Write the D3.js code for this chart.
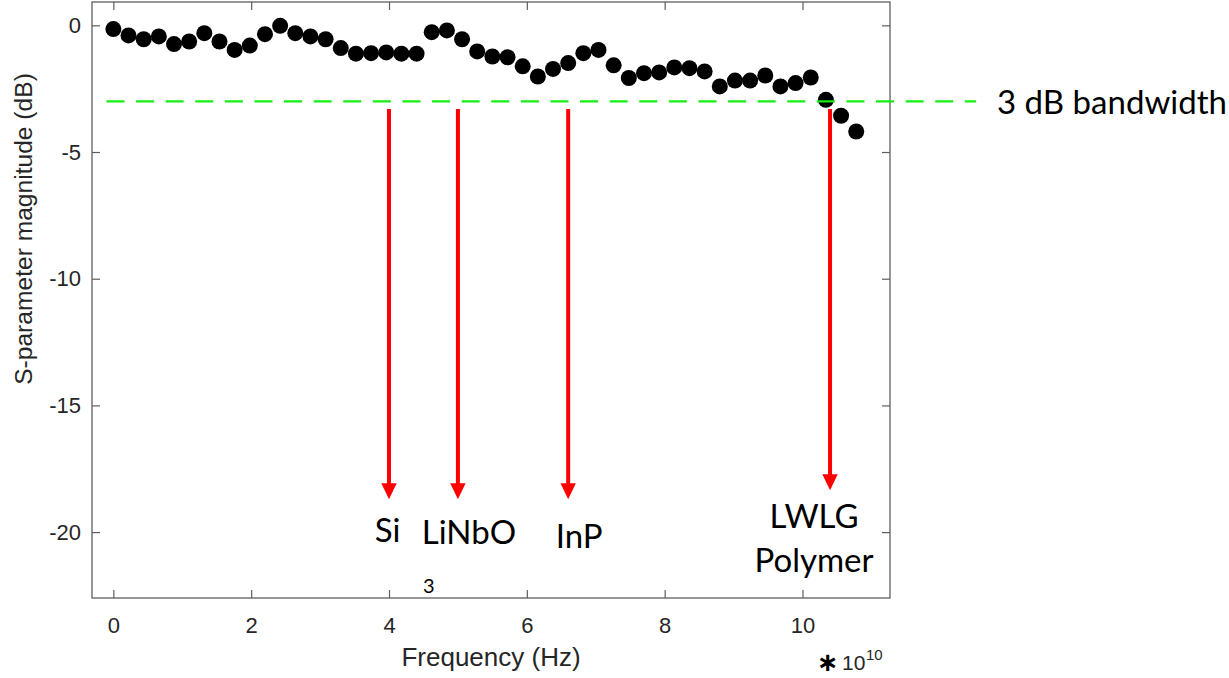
<!DOCTYPE html>
<html>
<head>
<meta charset="utf-8">
<script src="https://cdn.jsdelivr.net/npm/d3@7"></script>
<style>
  body { margin: 0; background: #fff; }
  svg { display: block; }
</style>
</head>
<body>
<div id="chart"></div>
<script>
// frequency in units of 1e10 Hz
const freqs = [0, 0.22, 0.44, 0.66, 0.88, 1.10, 1.32, 1.54, 1.76, 1.98,
  2.20, 2.42, 2.64, 2.86, 3.08, 3.30, 3.52, 3.74, 3.96, 4.18,
  4.40, 4.62, 4.84, 5.06, 5.28, 5.50, 5.72, 5.94, 6.16, 6.38,
  6.60, 6.82, 7.04, 7.26, 7.48, 7.70, 7.92, 8.14, 8.36, 8.58,
  8.80, 9.02, 9.24, 9.46, 9.68, 9.90, 10.12, 10.34, 10.56, 10.78];
// measured S-parameter magnitude (dB)
const magnitude = [-0.15, -0.40, -0.55, -0.44, -0.74, -0.64, -0.31, -0.64, -0.97, -0.80,
  -0.35, -0.02, -0.31, -0.44, -0.55, -0.90, -1.12, -1.10, -1.07, -1.12,
  -1.12, -0.27, -0.20, -0.55, -1.03, -1.23, -1.26, -1.62, -2.02, -1.72,
  -1.49, -1.10, -0.97, -1.58, -2.08, -1.89, -1.86, -1.66, -1.69, -1.82,
  -2.41, -2.18, -2.18, -1.98, -2.41, -2.28, -2.06, -2.94, -3.57, -4.19];

const xTicks = [0, 2, 4, 6, 8, 10];
const yTicks = [0, -5, -10, -15, -20];
const bandwidthLevel = -3;

// material bandwidth markers
const materials = ['Si', 'LiNbO', 'InP', 'LWLG Polymer'];
const materialFreqs = [4, 5, 6.6, 10.4];
const arrowTipDb = [-18.7, -18.7, -18.7, -18.35];
const arrowStartDb = -3.3;

const width = 1229, height = 678;
const svg = d3.select('#chart').append('svg')
  .attr('width', width)
  .attr('height', height);

const x = d3.scaleLinear().domain([-0.31, 11.27]).range([92, 890]);
const y = d3.scaleLinear().domain([-22.6, 0.92]).range([598, 2]);

const axisColor = '#5e5e5e';
const textColor = '#262626';
const tickFont = '"Liberation Sans", Arial, sans-serif';
const noteFont = 'Lato, "Open Sans", sans-serif';
const plainFmt = d => String(d); // hyphen minus, not the unicode minus

// axes (ticks inward, like matlab)
function styleAxis(g, showLabels) {
  g.select('.domain').remove();
  g.selectAll('.tick line').attr('stroke', axisColor).attr('stroke-width', 1.2);
  g.selectAll('.tick text')
    .attr('fill', textColor)
    .style('font-family', tickFont)
    .style('font-size', '22px');
  if (!showLabels) g.selectAll('.tick text').remove();
}

svg.append('g')
  .attr('transform', `translate(0,${y.range()[0]})`)
  .call(d3.axisBottom(x).tickValues(xTicks).tickFormat(plainFmt).tickSize(-8).tickPadding(19))
  .call(g => styleAxis(g, true));

svg.append('g')
  .attr('transform', `translate(0,${y.range()[1]})`)
  .call(d3.axisTop(x).tickValues(xTicks).tickSize(-8))
  .call(g => styleAxis(g, false));

svg.append('g')
  .attr('transform', `translate(${x.range()[0]},0)`)
  .call(d3.axisLeft(y).tickValues(yTicks).tickFormat(plainFmt).tickSize(-8).tickPadding(11))
  .call(g => styleAxis(g, true));

svg.append('g')
  .attr('transform', `translate(${x.range()[1]},0)`)
  .call(d3.axisRight(y).tickValues(yTicks).tickSize(-8))
  .call(g => styleAxis(g, false));

// box
svg.append('rect')
  .attr('x', x.range()[0])
  .attr('y', y.range()[1])
  .attr('width', x.range()[1] - x.range()[0])
  .attr('height', y.range()[0] - y.range()[1])
  .attr('fill', 'none')
  .attr('stroke', axisColor)
  .attr('stroke-width', 1.3);

// axis labels
svg.append('text')
  .attr('x', (x.range()[0] + x.range()[1]) / 2)
  .attr('y', 666)
  .attr('text-anchor', 'middle')
  .attr('fill', textColor)
  .style('font-family', tickFont)
  .style('font-size', '26px')
  .text('Frequency (Hz)');

svg.append('text')
  .attr('transform', 'translate(32,229) rotate(-90)')
  .attr('text-anchor', 'middle')
  .attr('fill', textColor)
  .style('font-family', tickFont)
  .style('font-size', '24.6px')
  .text('S-parameter magnitude (dB)');

// exponent "* 10^10"
svg.append('text')
  .attr('x', 817)
  .attr('y', 671)
  .attr('fill', '#000')
  .style('font-family', '"DejaVu Sans", sans-serif')
  .style('font-weight', 'bold')
  .style('font-size', '26px')
  .text('\u2217');
const expo = svg.append('text')
  .attr('x', 842)
  .attr('y', 670)
  .attr('fill', textColor)
  .style('font-family', tickFont)
  .style('font-size', '21px');
expo.append('tspan').text('10');
expo.append('tspan').attr('x', 866).attr('y', 660).style('font-size', '15px').text('10');

// data points
svg.append('g')
  .selectAll('circle')
  .data(freqs.map((f, i) => ({ f, db: magnitude[i] })))
  .join('circle')
    .attr('cx', d => x(d.f))
    .attr('cy', d => y(d.db))
    .attr('r', 8)
    .attr('fill', '#000');

// 3 dB line, extends past the box
svg.append('line')
  .attr('x1', x(-0.1))
  .attr('x2', x(12.52))
  .attr('y1', y(bandwidthLevel))
  .attr('y2', y(bandwidthLevel))
  .attr('stroke', '#14ee14')
  .attr('stroke-width', 2.2)
  .attr('stroke-dasharray', '18 11.6');

svg.append('text')
  .attr('x', 997)
  .attr('y', 114)
  .attr('fill', '#000')
  .style('font-family', noteFont)
  .style('font-size', '33px')
  .text('3 dB bandwidth');

// red arrows
const arrowData = materials.map((m, i) => ({ m, f: materialFreqs[i], tip: arrowTipDb[i] }));
const headLen = 16, headHalf = 7.7;

const arrows = svg.append('g').selectAll('g')
  .data(arrowData)
  .join('g');

arrows.append('line')
  .attr('x1', d => x(d.f))
  .attr('x2', d => x(d.f))
  .attr('y1', y(arrowStartDb))
  .attr('y2', d => y(d.tip) - headLen + 2)
  .attr('stroke', '#ff0000')
  .attr('stroke-width', 4);

arrows.append('path')
  .attr('d', d => {
    const ax = x(d.f), ty = y(d.tip);
    return `M${ax - headHalf},${ty - headLen}L${ax + headHalf},${ty - headLen}L${ax},${ty}Z`;
  })
  .attr('fill', '#ff0000');

// material labels (offsets relative to arrow)
const labelLayout = [
  { dx: -1.5, lines: [541.7] },
  { dx: 11, lines: [544] },
  { dx: 11, lines: [548.3] },
  { dx: -16, lines: [528.3, 571.7] }
];

arrows.each(function(d, i) {
  const words = i === 3 ? d.m.split(' ') : [d.m];
  const t = d3.select(this).append('text')
    .attr('text-anchor', 'middle')
    .attr('fill', '#000')
    .style('font-family', noteFont)
    .style('font-size', '33px');
  words.forEach((w, k) => {
    t.append('tspan')
      .attr('x', x(d.f) + labelLayout[i].dx)
      .attr('y', labelLayout[i].lines[k])
      .text(w);
  });
});

// stray subscript of LiNbO3
svg.append('text')
  .attr('x', 423)
  .attr('y', 592.7)
  .attr('fill', '#000')
  .style('font-family', noteFont)
  .style('font-size', '20px')
  .text('3');
</script>
</body>
</html>
